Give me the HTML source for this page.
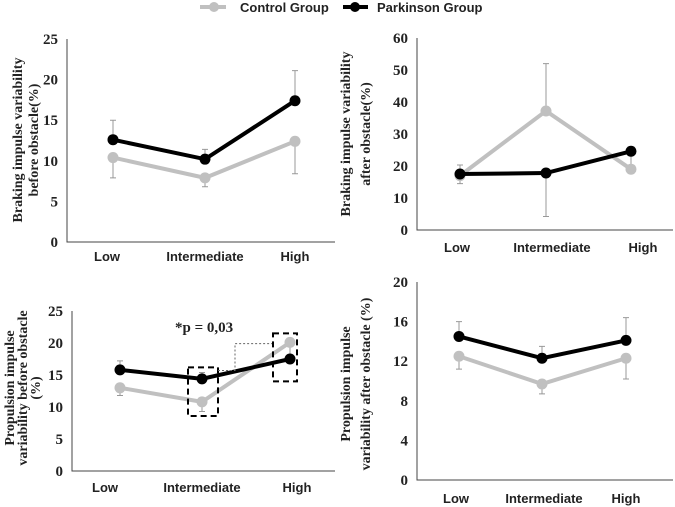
<!DOCTYPE html>
<html><head><meta charset="utf-8"><style>
body{margin:0;background:#fff}
svg{display:block}
.tk{font:bold 15px "Liberation Serif",serif;fill:#222}
.xl{font:bold 13px "Liberation Sans",sans-serif;fill:#222}
.yt{font:bold 14px "Liberation Serif",serif;fill:#222}
.lg{font:bold 13px "Liberation Sans",sans-serif;fill:#222}
</style></head><body>
<svg id="c" width="675" height="507" viewBox="0 0 675 507">
<g>
<line x1="200" y1="7" x2="226" y2="7" stroke="#c0c0c0" stroke-width="4"/><circle cx="214" cy="7" r="5" fill="#c0c0c0"/>
<text class="lg" x="240" y="12">Control Group</text>
<line x1="343" y1="7" x2="368" y2="7" stroke="#000" stroke-width="4"/><circle cx="355" cy="7" r="5" fill="#000"/>
<text class="lg" x="377" y="12">Parkinson Group</text>
</g>
</svg>
<script>
const categories=["Low","Intermediate","High"];
// error arrays hold the value at the end of each error bar (null = none)
// panel 1: braking before
const p1Control=[10.4,7.9,12.4], p1Park=[12.6,10.2,17.4];
const p1ControlErr=[7.9,6.8,8.4], p1ParkErr=[15.0,11.4,21.1];
const p1Ticks=[0,5,10,15,20,25];
// panel 2: braking after
const p2Control=[17,37.2,19], p2Park=[17.5,17.8,24.6];
const p2ControlErr=[14.5,52,null], p2ParkErr=[20.3,4.2,19];
const p2Ticks=[0,10,20,30,40,50,60];
// panel 3: propulsion before
const p3Control=[13.0,10.8,20.1], p3Park=[15.8,14.4,17.5];
const p3ControlErr=[11.8,9.3,17.5], p3ParkErr=[17.2,15.4,null];
const p3Ticks=[0,5,10,15,20,25];
// panel 4: propulsion after
const p4Control=[12.5,9.7,12.3], p4Park=[14.5,12.3,14.1];
const p4ControlErr=[11.2,8.7,10.2], p4ParkErr=[16.0,13.5,16.4];
const p4Ticks=[0,4,8,12,16,20];

const svg=document.getElementById('c');
const NS="http://www.w3.org/2000/svg";
function mk(tag,attrs,parent){const e=document.createElementNS(NS,tag);for(const k in attrs)e.setAttribute(k,attrs[k]);(parent||svg).appendChild(e);return e;}

function panel(cfg){
  const g=mk('g',{});
  
  
  const max=cfg.ticks[cfg.ticks.length-1];
  const y=v=>cfg.y0-(v/max)*(cfg.y0-cfg.yTop);
  const x=i=>cfg.px[i];
  const ax=mk('path',{d:`M${cfg.ax} ${cfg.yTop} V${cfg.y0} H${cfg.axEnd}`,stroke:'#444','stroke-width':1,fill:'none'},g);
  
  
  cfg.ticks.forEach(t=>{
    const tx=mk('text',{class:'tk',x:cfg.ax-9,y:y(t)+5,'text-anchor':'end'},g);
    tx.textContent=t;
    
    
  });
  categories.forEach((c,i)=>{
    const tx=mk('text',{class:'xl',x:cfg.lx[i],y:cfg.ly,'text-anchor':'middle'},g);
    tx.textContent=c;
    
    
  });
  cfg.title.forEach((ln,j)=>{
    const tx=mk('text',{class:'yt',x:0,y:0,'text-anchor':'middle',transform:`translate(${cfg.tx[j]},${cfg.tcy}) rotate(-90)`},g);
    tx.textContent=ln;
    
    
  });
  const series=[
    {vals:cfg.ctrl,err:cfg.ctrlErr,col:'#c0c0c0',name:'control'},
    {vals:cfg.park,err:cfg.parkErr,col:'#000',name:'parkinson'}];
  series.forEach(s=>{
    s.vals.forEach((v,i)=>{
      const e=s.err[i];
      if(e===null||e===undefined)return;
      const l=mk('path',{d:`M${x(i)} ${y(v)} V${y(e)} M${x(i)-3} ${y(e)} H${x(i)+3}`,stroke:'#999','stroke-width':1,fill:'none'},g);
      
      
    });
  });
  series.forEach(s=>{
    const pl=mk('polyline',{points:s.vals.map((v,i)=>x(i)+','+y(v)).join(' '),stroke:s.col,'stroke-width':4,fill:'none'},g);
    
    
    s.vals.forEach((v,i)=>{
      const c=mk('circle',{cx:x(i),cy:y(v),r:5.5,fill:s.col},g);
      
      
    });
  });
  return {g,y,x};
}

panel({name:'panel-braking-before',ax:67,axEnd:335,yTop:39,y0:242,ticks:p1Ticks,px:[113,205,295],lx:[107,205,295],ly:261,
  title:['Braking impulse variability','before obstacle(%)'],tx:[22,38],tcy:140,ctrl:p1Control,park:p1Park,ctrlErr:p1ControlErr,parkErr:p1ParkErr});
panel({name:'panel-braking-after',ax:417,axEnd:673,yTop:38,y0:230,ticks:p2Ticks,px:[460,546,631],lx:[457,552,643],ly:252,
  title:['Braking impulse variability','after obstacle(%)'],tx:[350,370],tcy:134,ctrl:p2Control,park:p2Park,ctrlErr:p2ControlErr,parkErr:p2ParkErr});
const p3=panel({name:'panel-propulsion-before',ax:72,axEnd:335,yTop:311,y0:471,ticks:p3Ticks,px:[120,202,290],lx:[105,202,297],ly:492,
  title:['Propulsion  impulse','variability  before obstacle','(%)'],tx:[14,27,40],tcy:388,ctrl:p3Control,park:p3Park,ctrlErr:p3ControlErr,parkErr:p3ParkErr});
panel({name:'panel-propulsion-after',ax:417,axEnd:673,yTop:282,y0:480,ticks:p4Ticks,px:[459,542,626],lx:[456,544,626],ly:503,
  title:['Propulsion impulse','variability after obstacle (%)'],tx:[350,370],tcy:384,ctrl:p4Control,park:p4Park,ctrlErr:p4ControlErr,parkErr:p4ParkErr});

// annotations on panel 3
const ann=mk('g',{});


mk('rect',{x:188,y:p3.y(16.2),width:30,height:p3.y(8.6)-p3.y(16.2),fill:'none',stroke:'#000','stroke-width':2,'stroke-dasharray':'6,4'},ann);
mk('rect',{x:273,y:p3.y(21.5),width:24,height:p3.y(14)-p3.y(21.5),fill:'none',stroke:'#000','stroke-width':2,'stroke-dasharray':'6,4'},ann);
mk('path',{d:`M218 ${p3.y(15.7)} H235 V${p3.y(19.9)} H272`,fill:'none',stroke:'#666','stroke-width':1,'stroke-dasharray':'2,2'},ann);
const pt=mk('text',{x:175,y:332,class:'tk'},ann);
pt.textContent='*p = 0,03';


</script>
</body></html>
